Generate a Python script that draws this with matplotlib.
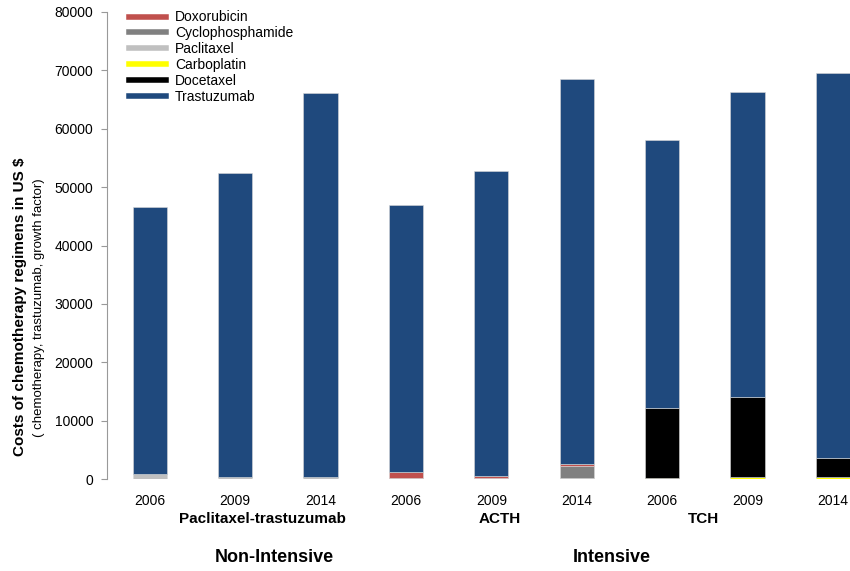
import numpy as np
import matplotlib
matplotlib.use("Agg")
import matplotlib.pyplot as plt
from matplotlib.lines import Line2D

plt.rcParams["font.family"] = ["Liberation Sans", "DejaVu Sans"]

# bar labels
years = ["2006", "2009", "2014"] * 3
totals = [46600, 52400, 66100, 47000, 52800, 68500, 58100, 66300, 69600]

# drug cost components (US $)
paclitaxel = [800, 400, 300, 150, 100, 100, 0, 0, 0]
cyclophosphamide = [0, 0, 0, 100, 50, 2100, 0, 0, 0]
carboplatin = [0, 0, 0, 0, 0, 0, 150, 400, 300]
doxorubicin = [0, 0, 0, 900, 450, 400, 0, 0, 0]
docetaxel = [0, 0, 0, 0, 0, 0, 12100, 13600, 3300]

colors = {
    "Doxorubicin": "#c0504d",
    "Cyclophosphamide": "#808080",
    "Paclitaxel": "#c0c0c0",
    "Carboplatin": "#ffff00",
    "Docetaxel": "#000000",
    "Trastuzumab": "#1f497d",
}

others = np.array(paclitaxel) + np.array(cyclophosphamide) + np.array(carboplatin) \
    + np.array(doxorubicin) + np.array(docetaxel)
trastuzumab = np.array(totals) - others

stack = [
    ("Paclitaxel", paclitaxel),
    ("Cyclophosphamide", cyclophosphamide),
    ("Carboplatin", carboplatin),
    ("Doxorubicin", doxorubicin),
    ("Docetaxel", docetaxel),
    ("Trastuzumab", trastuzumab),
]

fig = plt.figure(figsize=(8.5, 5.71), dpi=100)
ax = fig.add_axes([0.126, 0.161, 0.874, 0.818])

x = np.arange(len(totals))
bottom = np.zeros(len(totals))
for name, vals in stack:
    vals = np.array(vals, dtype=float)
    ax.bar(x, vals, width=0.4, bottom=bottom, color=colors[name],
           edgecolor="#d8d8d8", linewidth=0.4)
    bottom += vals

ax.set_xlim(-0.5, 8.2)
ax.set_ylim(0, 80000)
ax.set_yticks(np.arange(0, 80001, 10000))
ax.tick_params(axis="y", labelsize=10, color="#999999", length=4, pad=6)
ax.set_xticks(x)
ax.set_xticklabels(years, fontsize=10)
ax.tick_params(axis="x", length=0, pad=11)
for s in ["top", "right", "bottom"]:
    ax.spines[s].set_visible(False)
ax.spines["left"].set_color("#999999")

# y labels
fig.text(0.024, 0.462, "Costs of chemotherapy regimens in US $", rotation=90,
         ha="center", va="center", fontsize=11, fontweight="bold")
fig.text(0.046, 0.462, "( chemotherapy, trastuzumab, growth factor)", rotation=90,
         ha="center", va="center", fontsize=9.5)

# group labels
fig.text(262 / 850, 1 - 519 / 571, "Paclitaxel-trastuzumab", ha="center", va="center",
         fontsize=11, fontweight="bold")
fig.text(500 / 850, 1 - 519 / 571, "ACTH", ha="center", va="center",
         fontsize=11, fontweight="bold")
fig.text(704 / 850, 1 - 519 / 571, "TCH", ha="center", va="center",
         fontsize=11, fontweight="bold")
fig.text(274 / 850, 1 - 557 / 571, "Non-Intensive", ha="center", va="center",
         fontsize=13, fontweight="bold")
fig.text(612 / 850, 1 - 557 / 571, "Intensive", ha="center", va="center",
         fontsize=13, fontweight="bold")

legend_names = ["Doxorubicin", "Cyclophosphamide", "Paclitaxel", "Carboplatin",
                "Docetaxel", "Trastuzumab"]
handles = [Line2D([0], [0], color=colors[n], lw=4) for n in legend_names]
ax.legend(handles, legend_names, loc="upper left", bbox_to_anchor=(0.012, 1.03),
          frameon=False, fontsize=10, handlelength=2.7, labelspacing=0.13,
          handletextpad=0.65)

fig.savefig("out.png", dpi=100)
